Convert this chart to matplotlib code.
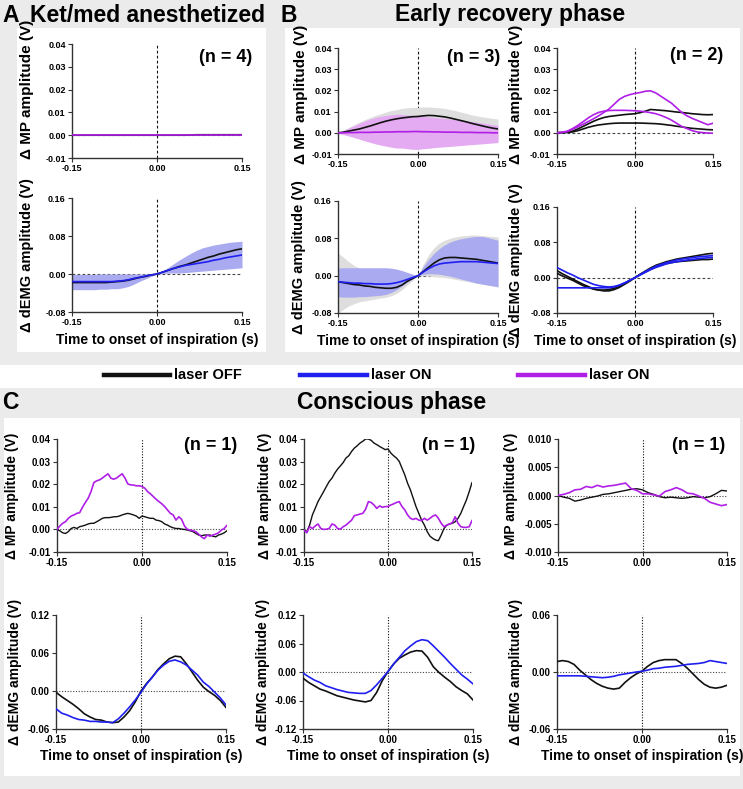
"""
plot.py
Event-triggered MP and dEMG traces around inspiration onset:
panel A (ket/med anesthetized), B (early recovery), C (conscious phase).
"""

import numpy as np
import matplotlib
matplotlib.use("Agg")
import matplotlib.pyplot as plt
from matplotlib.patches import Rectangle
from matplotlib.lines import Line2D

plt.rcParams["font.family"] = ["Liberation Sans", "DejaVu Sans"]
plt.rcParams["font.weight"] = "bold"
plt.rcParams["axes.unicode_minus"] = False

# ─── Data (V) ─────────────────────────────────────────────────────────────────

T31 = np.linspace(-0.15, 0.15, 31)   # 10 ms steps
T61 = np.linspace(-0.15, 0.15, 61)   # 5 ms steps

# Panel A – ket/med anesthetized (n = 4)
a_mp_off = [0, 0, 0, 0, 0, 0, 0, 0, 0, 0, 0, 0, 0, 0, 0, 0,
            0, 0, 0, 0, 0, 0.0001, 0.0002, 0.0002, 0.0002, 0.0002,
            0.0002, 0.0002, 0.0002, 0.0002, 0.0002]
a_mp_on = [0] * 31
a_emg_off = [-0.018, -0.018, -0.018, -0.018, -0.018, -0.018, -0.018, -0.017,
             -0.016, -0.015, -0.013, -0.010, -0.007, -0.005, -0.002, 0.0,
             0.004, 0.008, 0.012, 0.016, 0.019, 0.023, 0.027, 0.031, 0.035,
             0.038, 0.042, 0.045, 0.048, 0.051, 0.053]
a_emg_on = [-0.016, -0.016, -0.016, -0.016, -0.016, -0.016, -0.016, -0.016,
            -0.015, -0.014, -0.012, -0.009, -0.007, -0.004, -0.002, 0.0,
            0.004, 0.008, 0.012, 0.015, 0.018, 0.020, 0.022, 0.024, 0.026,
            0.029, 0.031, 0.034, 0.036, 0.038, 0.040]
a_emg_on_hi = [-0.001, -0.001, -0.001, -0.001, -0.001, 0.0, 0.0, 0.0, 0.0,
               0.0, 0.0, 0.0, 0.0, 0.0, 0.0, 0.0, 0.007, 0.014, 0.022, 0.030,
               0.037, 0.044, 0.050, 0.055, 0.058, 0.061, 0.063, 0.065, 0.067,
               0.068, 0.069]
a_emg_on_lo = [-0.033, -0.033, -0.033, -0.033, -0.033, -0.032, -0.032, -0.031,
               -0.031, -0.029, -0.026, -0.021, -0.015, -0.010, -0.005, 0.0,
               0.001, 0.002, 0.002, 0.002, 0.003, 0.004, 0.005, 0.006, 0.007,
               0.008, 0.009, 0.010, 0.011, 0.012, 0.013]

# Panel B left – early recovery, mean ± spread (n = 3)
b1_mp_off = [0.0, 0.0003, 0.0008, 0.0013, 0.0018, 0.0025, 0.0032, 0.0040,
             0.0048, 0.0055, 0.0061, 0.0066, 0.0070, 0.0073, 0.0076, 0.0077,
             0.0080, 0.0082, 0.0081, 0.0078, 0.0075, 0.0070, 0.0064, 0.0058,
             0.0052, 0.0045, 0.0039, 0.0033, 0.0027, 0.0022, 0.0018]
b1_mp_on = [0.0, 0.0, 0.0001, 0.0001, 0.0002, 0.0002, 0.0002, 0.0003, 0.0003,
            0.0004, 0.0004, 0.0005, 0.0005, 0.0005, 0.0006, 0.0006, 0.0005,
            0.0005, 0.0004, 0.0004, 0.0003, 0.0003, 0.0003, 0.0002, 0.0002,
            0.0002, 0.0001, 0.0001, 0.0001, 0.0, 0.0]
b1_mp_off_hi = [0.0, 0.0012, 0.0025, 0.0038, 0.0050, 0.0062, 0.0072, 0.0082,
                0.0090, 0.0098, 0.0105, 0.0110, 0.0115, 0.0118, 0.0120, 0.0120,
                0.0122, 0.0122, 0.0120, 0.0118, 0.0115, 0.0110, 0.0105, 0.0098,
                0.0092, 0.0085, 0.0080, 0.0075, 0.0072, 0.0068, 0.0065]
b1_mp_off_lo = [0.0, -0.0006, -0.0012, -0.0018, -0.0022, -0.0025, -0.0028,
                -0.0030, -0.0032, -0.0033, -0.0034, -0.0035, -0.0035, -0.0035,
                -0.0034, -0.0033, -0.0033, -0.0032, -0.0032, -0.0032, -0.0033,
                -0.0034, -0.0035, -0.0036, -0.0037, -0.0038, -0.0039, -0.0040,
                -0.0040, -0.0040, -0.0040]
b1_mp_on_hi = [0.0, 0.0010, 0.0022, 0.0033, 0.0045, 0.0055, 0.0065, 0.0072,
               0.0078, 0.0082, 0.0085, 0.0088, 0.0086, 0.0084, 0.0082, 0.0080,
               0.0078, 0.0075, 0.0072, 0.0070, 0.0068, 0.0065, 0.0062, 0.0060,
               0.0057, 0.0054, 0.0050, 0.0046, 0.0042, 0.0038, 0.0035]
b1_mp_on_lo = [0.0, -0.0008, -0.0015, -0.0022, -0.0030, -0.0038, -0.0045,
               -0.0052, -0.0058, -0.0063, -0.0068, -0.0072, -0.0072, -0.0075,
               -0.0078, -0.0078, -0.0075, -0.0073, -0.0070, -0.0068, -0.0066,
               -0.0064, -0.0062, -0.0060, -0.0058, -0.0056, -0.0054, -0.0052,
               -0.0050, -0.0048, -0.0046]
b1_emg_off = [-0.013, -0.015, -0.017, -0.019, -0.020, -0.022, -0.023, -0.025,
              -0.026, -0.027, -0.027, -0.025, -0.020, -0.012, -0.006, 0.0,
              0.009, 0.018, 0.027, 0.034, 0.038, 0.039, 0.039, 0.038, 0.037,
              0.036, 0.035, 0.033, 0.031, 0.029, 0.027]
b1_emg_on = [-0.013, -0.014, -0.015, -0.016, -0.016, -0.017, -0.017, -0.018,
             -0.018, -0.018, -0.017, -0.015, -0.012, -0.008, -0.004, 0.0,
             0.008, 0.015, 0.021, 0.025, 0.027, 0.028, 0.029, 0.030, 0.030,
             0.030, 0.030, 0.029, 0.028, 0.027, 0.026]
b1_emg_off_hi = [0.048, 0.040, 0.030, 0.022, 0.016, 0.012, 0.010, 0.009,
                 0.009, 0.009, 0.008, 0.007, 0.005, 0.003, 0.001, 0.0,
                 0.025, 0.045, 0.060, 0.070, 0.076, 0.080, 0.083, 0.085,
                 0.086, 0.087, 0.087, 0.086, 0.085, 0.084, 0.083]
b1_emg_off_lo = [-0.080, -0.072, -0.065, -0.060, -0.056, -0.054, -0.052,
                 -0.050, -0.048, -0.046, -0.043, -0.038, -0.030, -0.020,
                 -0.010, 0.0, 0.0, -0.001, -0.002, -0.003, -0.004, -0.006,
                 -0.008, -0.010, -0.012, -0.014, -0.016, -0.018, -0.020,
                 -0.022, -0.024]
b1_emg_on_hi = [0.016, 0.017, 0.017, 0.017, 0.017, 0.017, 0.017, 0.017,
                0.017, 0.017, 0.016, 0.014, 0.011, 0.007, 0.003, 0.0,
                0.020, 0.035, 0.048, 0.058, 0.066, 0.072, 0.076, 0.079,
                0.081, 0.083, 0.084, 0.084, 0.082, 0.079, 0.076]
b1_emg_on_lo = [-0.045, -0.046, -0.046, -0.046, -0.045, -0.045, -0.044,
                -0.043, -0.042, -0.040, -0.036, -0.030, -0.022, -0.014,
                -0.007, 0.0, 0.003, 0.004, 0.004, 0.003, 0.001, -0.001,
                -0.004, -0.007, -0.010, -0.013, -0.016, -0.018, -0.020,
                -0.022, -0.024]

# Panel B right – early recovery, two animals (n = 2)
b2_mp_off_1 = [0.0, 0.0001, 0.0003, 0.0008, 0.0018, 0.0030, 0.0042, 0.0054,
               0.0064, 0.0072, 0.0077, 0.0080, 0.0083, 0.0086, 0.0088, 0.0090,
               0.0095, 0.0102, 0.0110, 0.0108, 0.0106, 0.0104, 0.0101, 0.0098,
               0.0096, 0.0093, 0.0090, 0.0088, 0.0086, 0.0085, 0.0086]
b2_mp_off_2 = [0.0, 0.0001, 0.0002, 0.0004, 0.0010, 0.0018, 0.0026, 0.0032,
               0.0037, 0.0040, 0.0043, 0.0045, 0.0046, 0.0046, 0.0046, 0.0046,
               0.0046, 0.0045, 0.0044, 0.0043, 0.0041, 0.0038, 0.0035, 0.0031,
               0.0028, 0.0024, 0.0021, 0.0019, 0.0017, 0.0015, 0.0014]
b2_mp_on_1 = [0.0, 0.0002, 0.0006, 0.0017, 0.0028, 0.0040, 0.0053, 0.0066,
              0.0080, 0.0096, 0.0112, 0.0135, 0.0158, 0.0172, 0.0180, 0.0186,
              0.0190, 0.0196, 0.0198, 0.0188, 0.0172, 0.0156, 0.0140, 0.0118,
              0.0096, 0.0080, 0.0068, 0.0058, 0.0048, 0.0038, 0.0045]
b2_mp_on_2 = [0.0, 0.0003, 0.0008, 0.0020, 0.0035, 0.0052, 0.0070, 0.0085,
              0.0096, 0.0102, 0.0105, 0.0106, 0.0106, 0.0106, 0.0105, 0.0104,
              0.0102, 0.0099, 0.0095, 0.0090, 0.0082, 0.0072, 0.0060, 0.0045,
              0.0030, 0.0020, 0.0010, 0.0004, 0.0001, -0.0001, -0.0002]
b2_emg_off_1 = [0.016, 0.009, 0.003, -0.003, -0.009, -0.015, -0.020, -0.025,
                -0.028, -0.030, -0.030, -0.027, -0.022, -0.015, -0.008, 0.0,
                0.008, 0.015, 0.022, 0.028, 0.032, 0.036, 0.039, 0.042, 0.044,
                0.046, 0.048, 0.050, 0.052, 0.054, 0.055]
b2_emg_off_2 = [0.010, 0.004, -0.001, -0.006, -0.012, -0.018, -0.022, -0.026,
                -0.028, -0.028, -0.027, -0.024, -0.019, -0.013, -0.006, 0.0,
                0.007, 0.013, 0.019, 0.025, 0.029, 0.032, 0.034, 0.036, 0.037,
                0.038, 0.039, 0.040, 0.041, 0.041, 0.042]
b2_emg_on_1 = [0.023, 0.017, 0.011, 0.006, 0.0, -0.005, -0.010, -0.015,
               -0.018, -0.020, -0.021, -0.020, -0.017, -0.012, -0.006, 0.0,
               0.007, 0.014, 0.020, 0.026, 0.030, 0.034, 0.037, 0.040, 0.042,
               0.044, 0.045, 0.047, 0.048, 0.049, 0.050]
b2_emg_on_2 = [-0.023, -0.023, -0.023, -0.023, -0.023, -0.023, -0.023, -0.023,
               -0.023, -0.023, -0.023, -0.021, -0.017, -0.012, -0.006, 0.0,
               0.006, 0.012, 0.018, 0.023, 0.027, 0.031, 0.034, 0.036, 0.038,
               0.040, 0.041, 0.043, 0.044, 0.045, 0.046]

# Panel C – conscious phase, single animals (n = 1)
c1_mp_off = [0.0, -0.0006, -0.0015, -0.0018, -0.0010, 0.0004, 0.0009, 0.0004,
             0.0012, 0.0015, 0.0019, 0.0024, 0.0027, 0.0027, 0.0034, 0.0041,
             0.0049, 0.0052, 0.0052, 0.0053, 0.0056, 0.0056, 0.0059, 0.0064,
             0.0068, 0.0071, 0.0068, 0.0064, 0.0059, 0.0049, 0.0059, 0.0056,
             0.0052, 0.0049, 0.0049, 0.0041, 0.0039, 0.0034, 0.0024, 0.0019,
             0.0012, 0.0007, 0.0004, 0.0004, 0.0001, 0.0, -0.0003, -0.0006,
             -0.0010, -0.0018, -0.0025, -0.0028, -0.0025, -0.0025, -0.0025,
             -0.0030, -0.0033, -0.0025, -0.0021, -0.0015, -0.0006]
c1_mp_on = [0.0, 0.0015, 0.0027, 0.0034, 0.0049, 0.0059, 0.0064, 0.0071,
            0.0074, 0.0098, 0.0119, 0.0138, 0.0167, 0.0207, 0.0215, 0.0219,
            0.0227, 0.0237, 0.0246, 0.0227, 0.0222, 0.0227, 0.0237, 0.0246,
            0.0227, 0.0201, 0.0197, 0.0196, 0.0193, 0.0193, 0.0190, 0.0182,
            0.0167, 0.0157, 0.0145, 0.0133, 0.0123, 0.0113, 0.0101, 0.0086,
            0.0071, 0.0064, 0.0041, 0.0056, 0.0044, 0.0015, 0.0, -0.0003,
            -0.0006, -0.0010, -0.0021, -0.0033, -0.0041, -0.0025, -0.0030,
            -0.0025, -0.0021, -0.0015, -0.0003, 0.0004, 0.0018]
c1_emg_off = [-0.002, -0.009, -0.015, -0.021, -0.028, -0.036, -0.041, -0.045,
              -0.046, -0.049, -0.050, -0.049, -0.041, -0.031, -0.017, 0.0,
              0.012, 0.022, 0.034, 0.043, 0.051, 0.055, 0.054, 0.043, 0.030,
              0.017, 0.006, -0.001, -0.007, -0.015, -0.026]
c1_emg_on = [-0.028, -0.035, -0.038, -0.042, -0.045, -0.046, -0.048, -0.048,
             -0.049, -0.049, -0.050, -0.044, -0.035, -0.025, -0.014, -0.002,
             0.011, 0.022, 0.033, 0.041, 0.047, 0.049, 0.046, 0.041, 0.033,
             0.025, 0.014, 0.007, -0.002, -0.011, -0.022]

c2_mp_off = [-0.0003, -0.0010, 0.0019, 0.0064, 0.0093, 0.0123, 0.0145, 0.0167,
             0.0190, 0.0212, 0.0227, 0.0249, 0.0267, 0.0281, 0.0296, 0.0316,
             0.0326, 0.0345, 0.0360, 0.0370, 0.0382, 0.0390, 0.0400, 0.0400,
             0.0394, 0.0382, 0.0375, 0.0367, 0.0360, 0.0353, 0.0356, 0.0338,
             0.0326, 0.0316, 0.0301, 0.0271, 0.0241, 0.0204, 0.0175, 0.0138,
             0.0101, 0.0071, 0.0041, 0.0019, -0.0010, -0.0030, -0.0040,
             -0.0047, -0.0050, -0.0025, 0.0004, 0.0019, 0.0024, 0.0027,
             0.0034, 0.0049, 0.0071, 0.0101, 0.0130, 0.0167, 0.0207]
c2_mp_on = [-0.0003, -0.0015, 0.0012, 0.0004, 0.0015, 0.0024, 0.0004, 0.0,
            0.0001, 0.0004, 0.0024, 0.0019, 0.0004, 0.0001, 0.0012, 0.0019,
            0.0030, 0.0041, 0.0061, 0.0064, 0.0068, 0.0071, 0.0089, 0.0123,
            0.0119, 0.0108, 0.0093, 0.0104, 0.0098, 0.0101, 0.0101, 0.0108,
            0.0113, 0.0119, 0.0123, 0.0101, 0.0086, 0.0064, 0.0049, 0.0044,
            0.0049, 0.0041, 0.0039, 0.0049, 0.0041, 0.0049, 0.0059, 0.0064,
            0.0049, 0.0027, 0.0012, 0.0019, 0.0024, 0.0030, 0.0056, 0.0027,
            0.0012, 0.0009, 0.0009, 0.0012, 0.0039]
c2_emg_off = [-0.013, -0.022, -0.029, -0.036, -0.040, -0.045, -0.050, -0.053,
              -0.056, -0.059, -0.061, -0.063, -0.060, -0.043, -0.018, 0.001,
              0.017, 0.029, 0.036, 0.042, 0.045, 0.044, 0.031, 0.011, -0.001,
              -0.011, -0.020, -0.031, -0.039, -0.046, -0.059]
c2_emg_on = [-0.002, -0.010, -0.017, -0.022, -0.029, -0.033, -0.037, -0.040,
             -0.043, -0.044, -0.045, -0.045, -0.039, -0.027, -0.013, 0.001,
             0.017, 0.031, 0.045, 0.055, 0.064, 0.068, 0.066, 0.055, 0.043,
             0.031, 0.018, 0.006, -0.006, -0.015, -0.025]

c3_mp_off = [0.0, -0.0003, -0.0005, -0.0010, -0.0008, -0.0005, -0.0003,
             -0.0001, 0.0002, 0.0003, 0.0005, 0.0007, 0.0009, 0.0011, 0.0012,
             0.0010, 0.0005, 0.0002, -0.0002, -0.0004, -0.0003, -0.0004,
             -0.0005, -0.0004, -0.0002, -0.0003, -0.0004, -0.0002, 0.0003,
             0.0009, 0.0008]
c3_mp_on = [0.0, 0.0002, 0.0005, 0.0010, 0.0011, 0.0016, 0.0014, 0.0018,
            0.0015, 0.0017, 0.0018, 0.0020, 0.0022, 0.0012, 0.0009, 0.0003,
            0.0003, 0.0001, -0.0001, 0.0007, 0.0010, 0.0014, 0.0010, 0.0004,
            0.0003, -0.0001, -0.0005, -0.0012, -0.0015, -0.0018, -0.0016]
c3_emg_off = [0.011, 0.012, 0.011, 0.008, 0.002, -0.003, -0.008, -0.012,
              -0.015, -0.017, -0.018, -0.017, -0.011, -0.006, -0.002, 0.001,
              0.006, 0.010, 0.012, 0.013, 0.013, 0.013, 0.009, 0.004, -0.002,
              -0.008, -0.013, -0.016, -0.017, -0.016, -0.014]
c3_emg_on = [-0.004, -0.004, -0.004, -0.004, -0.004, -0.0045, -0.005, -0.0055,
             -0.006, -0.0055, -0.0045, -0.003, -0.002, -0.001, 0.0, 0.0007,
             0.002, 0.0035, 0.004, 0.005, 0.0055, 0.006, 0.007, 0.008, 0.0085,
             0.009, 0.010, 0.012, 0.011, 0.010, 0.009]

# ─── Style ─────────────────────────────────────────────────────────────────────

FIG_W, FIG_H = 743, 789
BG = "#ebebeb"
BLACK = "#111111"
BLUE = "#1f1ff0"
PURPLE = "#b01fe6"
SHADE_GRAY = "#dedede"
SHADE_BLUE = "#aaaaf0"
SHADE_PURPLE = "#e4aaf2"


def fx(x):
    return x / FIG_W


def fy(y):
    return 1 - y / FIG_H


def add_ax(fig, x0, x1, y0, y1):
    """Axes placed by pixel box (left, right, top, bottom)."""
    return fig.add_axes([fx(x0), fy(y1), fx(x1 - x0), (y1 - y0) / FIG_H])


def style_ax(ax, yticks, fmt, tick_fs, dotted):
    ax.set_xlim(-0.15, 0.15)
    ax.set_ylim(yticks[0], yticks[-1])
    ax.set_xticks([-0.15, 0.0, 0.15])
    ax.set_xticklabels(["-0.15", "0.00", "0.15"])
    ax.set_yticks(yticks)
    ax.set_yticklabels([fmt.format(v) for v in yticks])
    ax.spines[["top", "right"]].set_visible(False)
    ax.spines[["left", "bottom"]].set_color("#333333")
    ax.spines[["left", "bottom"]].set_linewidth(1.0)
    ax.tick_params(length=3, width=0.8, labelsize=tick_fs, pad=1.5,
                   color="#333333")
    ax.patch.set_alpha(0)
    ls = (0, (1, 1.5)) if dotted else (0, (2.5, 2))
    ax.axvline(0, color=BLACK, lw=0.8, ls=ls, zorder=1)
    ax.axhline(0, color="#444444", lw=0.8, ls=ls, zorder=1)


def set_labels(ax, ylabel, y_fs, lab_x, lab_y, xlabel=None, x_pad=4):
    ax.set_ylabel(ylabel, fontsize=y_fs, fontweight="bold")
    ax.yaxis.set_label_coords(lab_x, lab_y)
    if xlabel:
        ax.set_xlabel(xlabel, fontsize=10, fontweight="bold", labelpad=x_pad)


def trace(ax, t, y, color, lw=1.2):
    ax.plot(t, y, color=color, lw=lw, zorder=3)


def band(ax, t, lo, hi, color):
    ax.fill_between(t, lo, hi, color=color, lw=0, zorder=2)


# ─── Build figure ──────────────────────────────────────────────────────────────

fig = plt.figure(figsize=(FIG_W / 100, FIG_H / 100), dpi=100, facecolor=BG)

# white panel boxes (x0, x1, y0, y1 in px), kept behind every axes
for x0, x1, y0, y1 in [(17, 266, 28, 352), (285, 740, 28, 352),
                       (0, 743, 365, 388), (4, 740, 418, 776)]:
    fig.patches.append(Rectangle((fx(x0), fy(y1)), fx(x1 - x0),
                                 (y1 - y0) / FIG_H, transform=fig.transFigure,
                                 facecolor="white", edgecolor="none",
                                 zorder=-10))

XLAB = "Time to onset of inspiration (s)"
MP_LAB = "\u0394 MP amplitude (V)"
EMG_LAB = "\u0394 dEMG amplitude (V)"
MP_TICKS = [-0.01, 0.0, 0.01, 0.02, 0.03, 0.04]
EMG_TICKS_AB = [-0.08, 0.0, 0.08, 0.16]

# Panel A
ax = add_ax(fig, 72, 242, 44, 158)
style_ax(ax, MP_TICKS, "{:.2f}", 6.5, False)
trace(ax, T31, a_mp_off, BLACK)
trace(ax, T31, a_mp_on, PURPLE)
set_labels(ax, MP_LAB, 11, -0.224, 0.6)

ax = add_ax(fig, 72, 242, 198, 312)
style_ax(ax, EMG_TICKS_AB, "{:.2f}", 6.5, False)
band(ax, T31, a_emg_on_lo, a_emg_on_hi, SHADE_BLUE)
trace(ax, T31, a_emg_off, BLACK)
trace(ax, T31, a_emg_on, BLUE)
set_labels(ax, EMG_LAB, 10.5, -0.224, 0.5, XLAB)

# Panel B left
ax = add_ax(fig, 338, 498, 48, 154)
style_ax(ax, MP_TICKS, "{:.2f}", 6.5, False)
band(ax, T31, b1_mp_off_lo, b1_mp_off_hi, SHADE_GRAY)
band(ax, T31, b1_mp_on_lo, b1_mp_on_hi, SHADE_PURPLE)
trace(ax, T31, b1_mp_off, BLACK)
trace(ax, T31, b1_mp_on, PURPLE)
set_labels(ax, MP_LAB, 11, -0.19, 0.56)

ax = add_ax(fig, 338, 498, 201, 313)
style_ax(ax, EMG_TICKS_AB, "{:.2f}", 6.5, False)
band(ax, T31, b1_emg_off_lo, b1_emg_off_hi, SHADE_GRAY)
band(ax, T31, b1_emg_on_lo, b1_emg_on_hi, SHADE_BLUE)
trace(ax, T31, b1_emg_off, BLACK)
trace(ax, T31, b1_emg_on, BLUE)
set_labels(ax, EMG_LAB, 10.5, -0.2, 0.5, XLAB)

# Panel B right
ax = add_ax(fig, 557, 713, 48, 154)
style_ax(ax, MP_TICKS, "{:.2f}", 6.5, False)
trace(ax, T31, b2_mp_off_1, BLACK)
trace(ax, T31, b2_mp_off_2, BLACK)
trace(ax, T31, b2_mp_on_1, PURPLE)
trace(ax, T31, b2_mp_on_2, PURPLE)
set_labels(ax, MP_LAB, 11, -0.218, 0.56)

ax = add_ax(fig, 557, 713, 207, 313)
style_ax(ax, EMG_TICKS_AB, "{:.2f}", 6.5, False)
trace(ax, T31, b2_emg_off_1, BLACK)
trace(ax, T31, b2_emg_off_2, BLACK)
trace(ax, T31, b2_emg_on_1, BLUE)
trace(ax, T31, b2_emg_on_2, BLUE)
set_labels(ax, EMG_LAB, 10.5, -0.218, 0.5, XLAB)

# Panel C
c_cols = [
    (57, 227, 56, 226, c1_mp_off, c1_mp_on, c1_emg_off, c1_emg_on,
     MP_TICKS, "{:.2f}", [-0.06, 0.0, 0.06, 0.12], T61, -0.224, -0.2),
    (304, 472, 303, 473, c2_mp_off, c2_mp_on, c2_emg_off, c2_emg_on,
     MP_TICKS, "{:.2f}", [-0.12, -0.06, 0.0, 0.06, 0.12], T61, -0.19, -0.194),
    (558, 727, 557, 727, c3_mp_off, c3_mp_on, c3_emg_off, c3_emg_on,
     [-0.010, -0.005, 0.0, 0.005, 0.010], "{:.3f}", [-0.06, 0.0, 0.06], T31,
     -0.237, -0.2),
]
for (mx0, mx1, ex0, ex1, mp_off, mp_on, emg_off, emg_on,
     mp_ticks, mp_fmt, emg_ticks, t_mp, mp_lx, emg_lx) in c_cols:
    ax = add_ax(fig, mx0, mx1, 439, 552)
    style_ax(ax, mp_ticks, mp_fmt, 7, True)
    trace(ax, t_mp, mp_off, BLACK, 1.0)
    trace(ax, t_mp, mp_on, PURPLE, 1.2)
    set_labels(ax, MP_LAB, 10, mp_lx, 0.5)

    ax = add_ax(fig, ex0, ex1, 615, 729)
    style_ax(ax, emg_ticks, "{:.2f}", 7, True)
    trace(ax, T31, emg_off, BLACK, 1.2)
    trace(ax, T31, emg_on, BLUE, 1.2)
    set_labels(ax, EMG_LAB, 10, emg_lx, 0.5, XLAB, x_pad=3)

# ─── Titles, n labels, legend ──────────────────────────────────────────────────

title_kw = dict(fontsize=16.5, fontweight="bold", va="center")
fig.text(fx(2), fy(15), "A", **title_kw)
fig.text(fx(30), fy(15), "Ket/med anesthetized", **title_kw)
fig.text(fx(280), fy(15), "B", **title_kw)
fig.text(fx(510), fy(15), "Early recovery phase", ha="center", **title_kw)
fig.text(fx(2), fy(403), "C", **title_kw)
fig.text(fx(392), fy(403), "Conscious phase", ha="center", **title_kw)

n_kw = dict(fontsize=13, fontweight="bold", ha="right", va="center")
for x, y, s in [(252, 58, "(n = 4)"), (500, 58, "(n = 3)"), (723, 55, "(n = 2)"),
                (237, 445, "(n = 1)"), (475, 445, "(n = 1)"), (725, 445, "(n = 1)")]:
    fig.text(fx(x), fy(y), s, **n_kw)

for x0, x1, color, label in [(104, 170, BLACK, "laser OFF"),
                             (300, 367, BLUE, "laser ON"),
                             (518, 585, PURPLE, "laser ON")]:
    fig.add_artist(Line2D([fx(x0), fx(x1)], [fy(375), fy(375)], color=color,
                          lw=3.2, transform=fig.transFigure))
    fig.text(fx(x1 + 4), fy(375), label, fontsize=10.5, fontweight="bold",
             va="center")

fig.savefig("out.png", dpi=100, facecolor=BG)
